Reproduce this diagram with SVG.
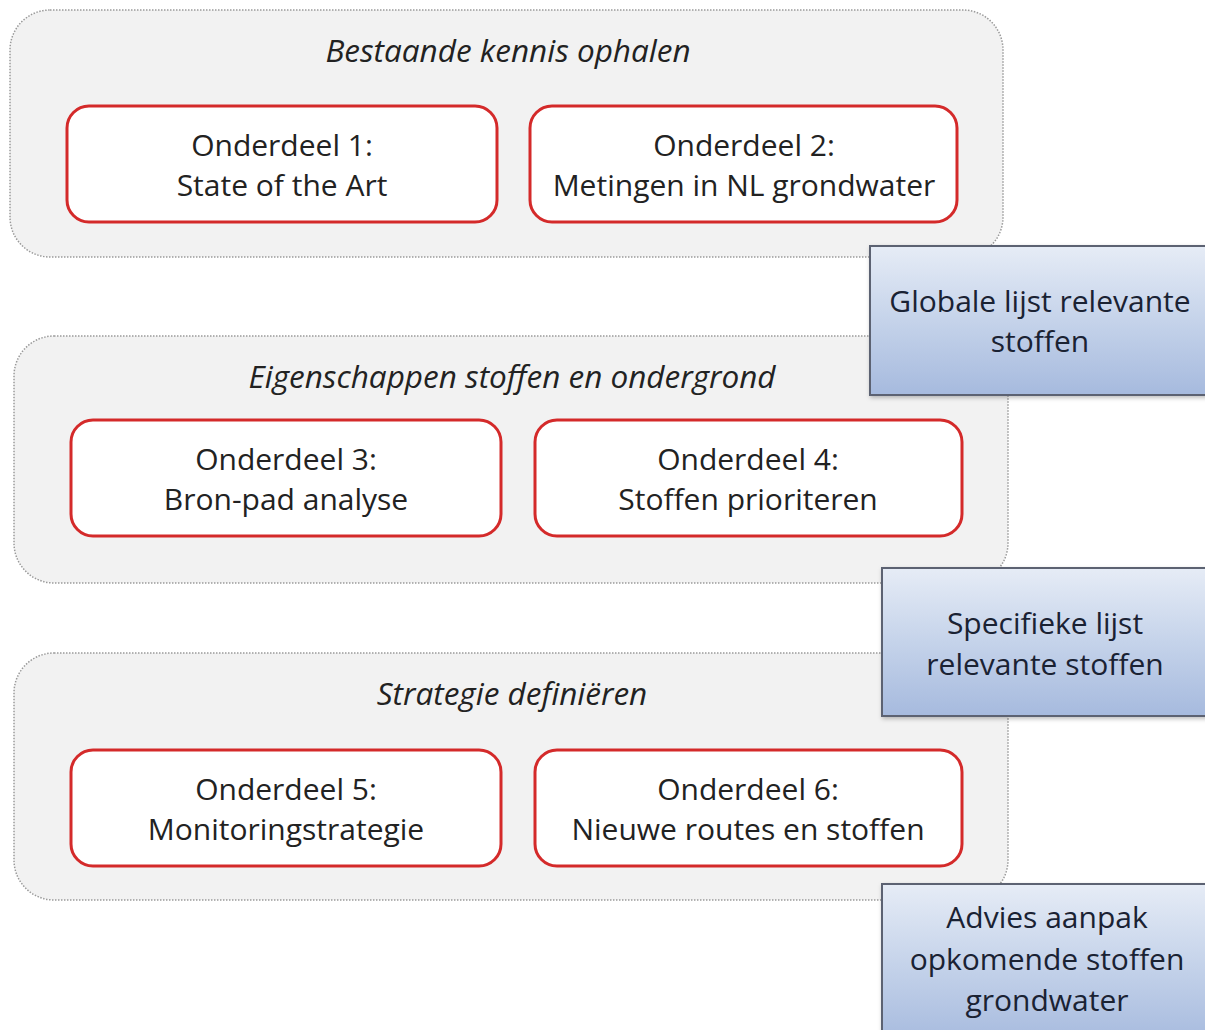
<svg xmlns="http://www.w3.org/2000/svg" width="1205" height="1030" viewBox="0 0 1205 1030">
<defs>
<linearGradient id="blue" x1="0" y1="0" x2="0" y2="1">
<stop offset="0" stop-color="#e6ecf6"/>
<stop offset="0.5" stop-color="#c5d3ea"/>
<stop offset="1" stop-color="#a6bade"/>
</linearGradient>
<filter id="sh" x="-5%" y="-5%" width="115%" height="120%">
<feDropShadow dx="1" dy="2" stdDeviation="2" flood-color="#000" flood-opacity="0.25"/>
</filter>
</defs>
<style>
.grp{fill:#f2f2f2;stroke:#9a9a9a;stroke-width:1.5;stroke-dasharray:1.5 1.5}
.part{fill:#ffffff;stroke:#d42a2a;stroke-width:3}
.out{fill:url(#blue);stroke:#5b6272;stroke-width:2}
.t{font-family:"Open Sans","Noto Sans",sans-serif;font-size:30px;fill:#222222;text-anchor:middle}
.ti{font-family:"Open Sans","Noto Sans",sans-serif;font-size:31.5px;font-style:italic;fill:#222222;text-anchor:middle}
.tb{font-family:"Open Sans","Noto Sans",sans-serif;font-size:30px;fill:#1a2233;text-anchor:middle}
</style>
<rect width="1205" height="1030" fill="#ffffff"/>
<g id="connectors"></g>
<g id="group1">
<rect class="grp" x="10" y="10" width="993" height="247" rx="40"/>
<text class="ti" x="508" y="62">Bestaande kennis ophalen</text>
</g>
<g id="group2">
<rect class="grp" x="14" y="336" width="994" height="247" rx="40"/>
<text class="ti" x="512" y="388">Eigenschappen stoffen en ondergrond</text>
</g>
<g id="group3">
<rect class="grp" x="14" y="653" width="994" height="247" rx="40"/>
<text class="ti" x="512" y="705">Strategie definiëren</text>
</g>
<g id="part1">
<rect class="part" x="67" y="106" width="430" height="116" rx="22"/>
<text class="t" x="282" y="156">Onderdeel 1:</text>
<text class="t" x="282" y="196">State of the Art</text>
</g>
<g id="part2">
<rect class="part" x="530" y="106" width="427" height="116" rx="22"/>
<text class="t" x="744" y="156">Onderdeel 2:</text>
<text class="t" x="744" y="196">Metingen in NL grondwater</text>
</g>
<g id="part3">
<rect class="part" x="71" y="420" width="430" height="116" rx="22"/>
<text class="t" x="286" y="470">Onderdeel 3:</text>
<text class="t" x="286" y="510">Bron-pad analyse</text>
</g>
<g id="part4">
<rect class="part" x="535" y="420" width="427" height="116" rx="22"/>
<text class="t" x="748" y="470">Onderdeel 4:</text>
<text class="t" x="748" y="510">Stoffen prioriteren</text>
</g>
<g id="part5">
<rect class="part" x="71" y="750" width="430" height="116" rx="22"/>
<text class="t" x="286" y="800">Onderdeel 5:</text>
<text class="t" x="286" y="840">Monitoringstrategie</text>
</g>
<g id="part6">
<rect class="part" x="535" y="750" width="427" height="116" rx="22"/>
<text class="t" x="748" y="800">Onderdeel 6:</text>
<text class="t" x="748" y="840">Nieuwe routes en stoffen</text>
</g>
<g id="out1">
<rect class="out" x="870" y="246" width="340" height="149" filter="url(#sh)"/>
<text class="tb" x="1040" y="312">Globale lijst relevante</text>
<text class="tb" x="1040" y="352">stoffen</text>
</g>
<g id="out2">
<rect class="out" x="882" y="568" width="330" height="148" filter="url(#sh)"/>
<text class="tb" x="1045" y="634">Specifieke lijst</text>
<text class="tb" x="1045" y="675">relevante stoffen</text>
</g>
<g id="out3">
<rect class="out" x="882" y="884" width="330" height="160" filter="url(#sh)"/>
<text class="tb" x="1047" y="928">Advies aanpak</text>
<text class="tb" x="1047" y="970">opkomende stoffen</text>
<text class="tb" x="1047" y="1011">grondwater</text>
</g>
</svg>
